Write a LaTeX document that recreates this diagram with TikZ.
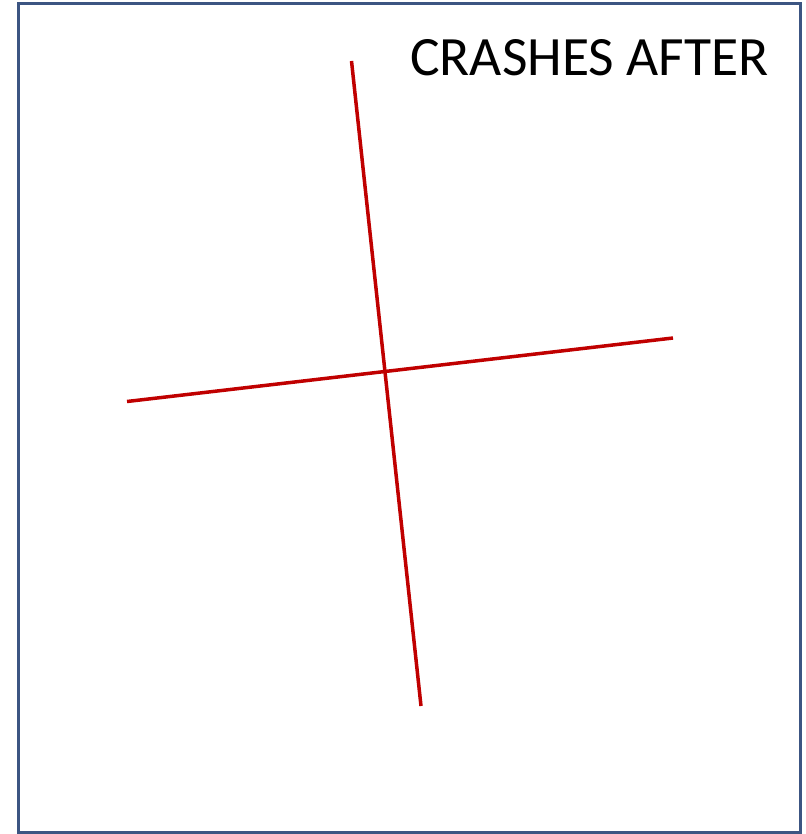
\documentclass[tikz,border=0pt]{standalone}
\usepackage{fontspec}
\setmainfont{Carlito}
\definecolor{framec}{RGB}{60,85,130}
\definecolor{crossred}{RGB}{192,0,0}
\begin{document}
\begin{tikzpicture}[x=1pt,y=-1pt,
  frame/.style={draw=framec,line width=3pt},
  redline/.style={draw=crossred,line width=3.5pt},
  label/.style={font=\fontsize{55.5}{60}\selectfont,inner sep=0pt,anchor=base west}]
\useasboundingbox (0,0) rectangle (805,834);
\fill[white] (0,0) rectangle (805,834);
\draw[frame] (18.5,3.5) rectangle (800.5,832);
\coordinate (vtop) at (351.5,61);
\coordinate (vbot) at (421,706);
\coordinate (hleft) at (127,401.5);
\coordinate (hright) at (673,338);
\draw[redline] (vtop) -- (vbot);
\draw[redline] (hleft) -- (hright);
\node[label] (title) at (410,75.5) {CRASHES AFTER};
\end{tikzpicture}
\end{document}
